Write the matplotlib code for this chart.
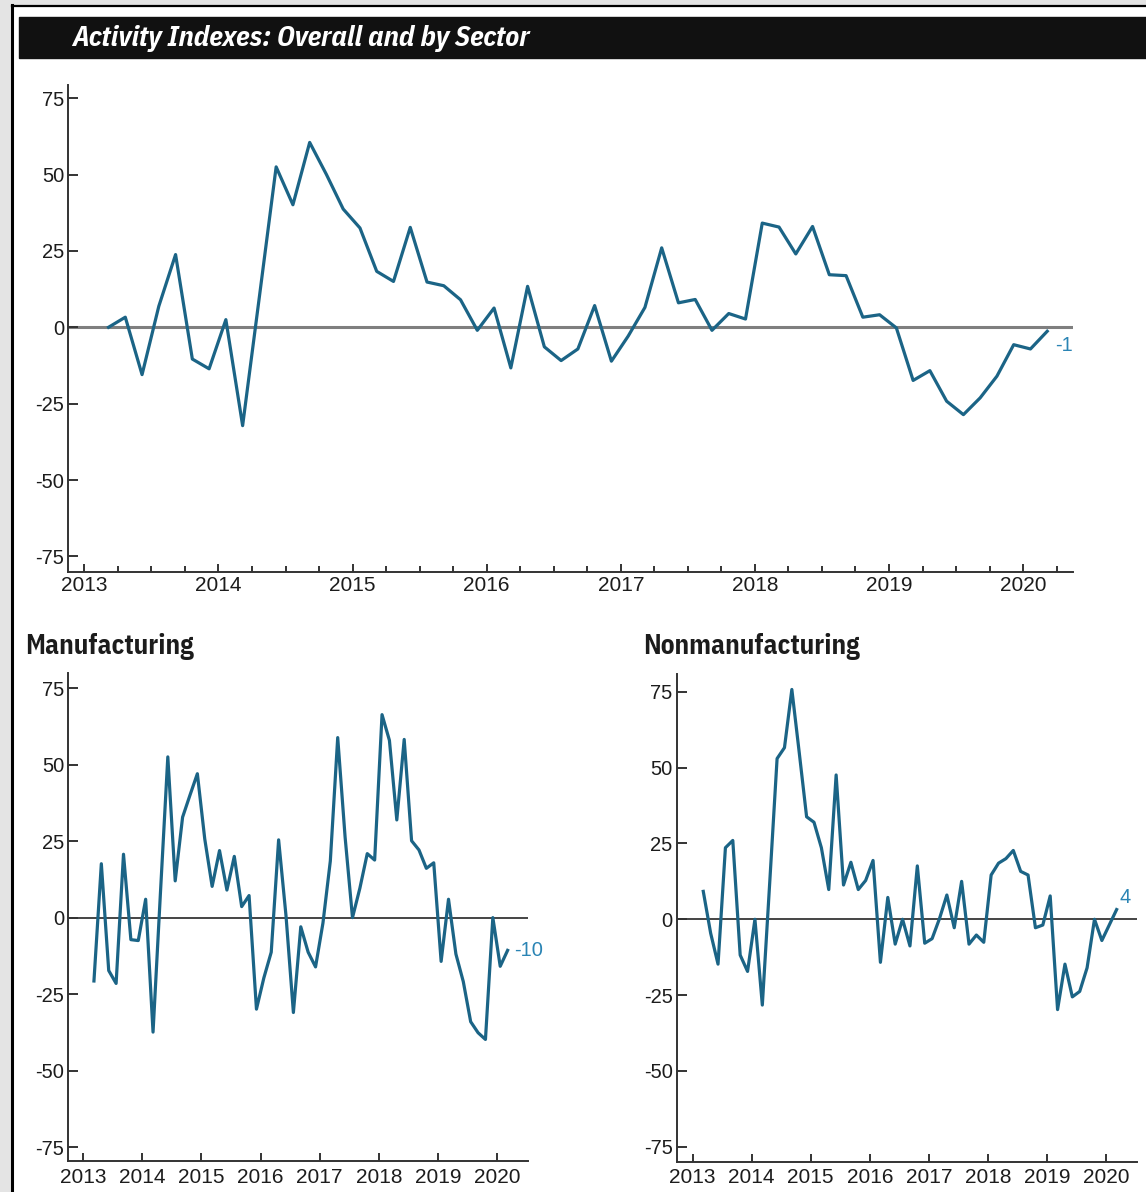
import matplotlib
matplotlib.use("Agg")
import matplotlib.pyplot as plt
import numpy as np
from matplotlib import font_manager
from matplotlib.patches import Rectangle
from matplotlib.lines import Line2D

# Beige Book style releases: 8 per year, first one ~March 2013
first_release = 2013.18
releases_per_year = 8

overall = [0, 3.3, -15.5, 6.9, 23.8, -10.4, -13.6, 2.5, -32.2, 10,
           52.5, 40.1, 60.5, 50, 38.7, 32.5, 18.3, 15.0, 32.7, 14.8,
           13.6, 9.0, -1.0, 6.3, -13.3, 13.4, -6.4, -10.9, -7.1, 7.1,
           -11.1, -2.9, 6.5, 26, 8.0, 9.1, -1.0, 4.5, 2.7, 34.1,
           32.8, 24.0, 33.0, 17.2, 16.9, 3.3, 4.1, -0.2, -17.4, -14.2,
           -24.2, -28.6, -23.1, -16, -5.7, -7.1, -1.3]

manufacturing = [-20.7, 17.6, -17.3, -21.5, 20.7, -7.2, -7.5, 6.0, -37.4, 8,
                 52.5, 12, 32.8, 40, 47, 25.7, 10.2, 21.9, 9.0, 20,
                 3.6, 7.2, -29.9, -19.7, -11.3, 25.4, 0.6, -31, -3, -11.3,
                 -16.1, -1.8, 18.5, 58.8, 26.3, 0, 9.6, 20.9, 18.8, 66.3,
                 57.9, 31.9, 58.2, 25.1, 22.1, 16.1, 17.9, -14.3, 6.0, -11.9,
                 -20.9, -34, -37.6, -39.8, 0, -15.9, -10.7]

nonmanufacturing = [9.2, -4.6, -14.8, 23.6, 26, -11.8, -17.2, 0, -28.3, 12,
                    53, 56.6, 75.8, 55, 33.8, 32, 23.6, 9.8, 47.6, 11.3,
                    18.8, 9.8, 12.8, 19.4, -14.2, 7.2, -8.2, 0, -8.8, 17.6,
                    -7.9, -6.4, 0.2, 8, -2.8, 12.5, -8.2, -5.2, -7.6, 14.6,
                    18.5, 20, 22.7, 15.8, 14.6, -2.8, -1.9, 7.7, -29.8, -14.8,
                    -25.6, -23.8, -16, 0, -7, -1.9, 3.2]

end_labels = ["-1", "-10", "4"]
years = list(range(2013, 2021))
y_ticks = [75, 50, 25, 0, -25, -50, -75]

dates = first_release + np.arange(len(overall)) / releases_per_year

names = {f.name for f in font_manager.fontManager.ttflist}
narrow = "DejaVu Sans"
for cand in ["IBM Plex Sans Condensed", "Roboto Condensed", "PT Sans Narrow", "Archivo Narrow"]:
    if cand in names:
        narrow = cand
        break
plain = "Liberation Sans" if "Liberation Sans" in names else "DejaVu Sans"
plt.rcParams["font.family"] = [plain, "DejaVu Sans"]

line_col = "#1b6486"
label_col = "#2a84b4"
text_col = "#1c1c1c"

W, H = 1146, 1192
fig = plt.figure(figsize=(W / 100, H / 100), dpi=100)
fig.patch.set_facecolor("white")


def px_box(left, top, right, bottom):
    return [left / W, 1 - bottom / H, (right - left) / W, (bottom - top) / H]


# page frame and header bar
fig.add_artist(Rectangle((0, 0), 10 / W, 1, transform=fig.transFigure,
                         color="#e4e4e4", zorder=0))
fig.add_artist(Rectangle((0, 1 - 5 / H), 1, 5 / H, transform=fig.transFigure,
                         color="#e4e4e4", zorder=0))
fig.add_artist(Line2D([11.5 / W, 11.5 / W], [0, 1 - 5 / H], transform=fig.transFigure,
                      color="black", lw=2.2))
fig.add_artist(Line2D([11.5 / W, 1], [1 - 5.5 / H, 1 - 5.5 / H], transform=fig.transFigure,
                      color="black", lw=1.6))
fig.add_artist(Rectangle((19 / W, 1 - 58 / H), 1, 41 / H, transform=fig.transFigure,
                         color="#111111", zorder=1))
fig.text(72 / W, 1 - 38 / H, "Activity Indexes: Overall and by Sector", color="white",
         fontsize=20.5, fontweight="bold", fontstyle="italic", family=[narrow, "DejaVu Sans"],
         va="center", ha="left", zorder=2)


def style_axes(ax, xlim, ylim, minor, zero_col, zero_lw):
    ax.set_xlim(*xlim)
    ax.set_ylim(*ylim)
    for s in ["top", "right"]:
        ax.spines[s].set_visible(False)
    for s in ["left", "bottom"]:
        ax.spines[s].set_color("#333333")
        ax.spines[s].set_linewidth(1.4)
    ax.axhline(0, color=zero_col, lw=zero_lw, zorder=1)
    ax.set_yticks(y_ticks)
    ax.set_yticklabels([str(v) for v in y_ticks])
    ax.set_xticks(years)
    ax.set_xticklabels([str(y) for y in years])
    if minor:
        ax.set_xticks(np.arange(2013, 2020.5, 0.25), minor=True)
    ax.tick_params(axis="y", direction="in", length=7.5, width=1.4, color="#333333",
                   labelsize=14.5, labelcolor=text_col, pad=3)
    ax.tick_params(axis="x", which="major", direction="in", length=6, width=1.4,
                   color="#333333", labelsize=15, labelcolor=text_col, pad=3)
    ax.tick_params(axis="x", which="minor", direction="in", length=4, width=1.4,
                   color="#333333")


# overall
ax0 = fig.add_axes(px_box(68.3, 85, 1072.7, 572.3))
style_axes(ax0, (2012.88, 2020.37), (-80.2, 79.3), True, "#7f7f7f", 2.2)
ax0.plot(dates, overall, color=line_col, lw=2.3, zorder=3)
ax0.annotate(end_labels[0], (dates[-1], overall[-1]), xytext=(6, -10),
             textcoords="offset points", color=label_col, fontsize=14.5, va="center")

# manufacturing
ax1 = fig.add_axes(px_box(68.3, 673, 527.7, 1161.3))
style_axes(ax1, (2012.746, 2020.52), (-79.6, 79.9), False, "#444444", 1.4)
ax1.tick_params(axis="x", pad=4.5)
ax1.plot(dates, manufacturing, color=line_col, lw=2.3, zorder=3)
ax1.annotate(end_labels[1], (dates[-1], manufacturing[-1]), xytext=(5, 0),
             textcoords="offset points", color=label_col, fontsize=14.5, va="center")
fig.text(25 / W, 1 - 647 / H, "Manufacturing", color=text_col, fontsize=19.5,
         fontweight="bold", family=[narrow, "DejaVu Sans"], va="center", ha="left")

# nonmanufacturing
ax2 = fig.add_axes(px_box(676.7, 674, 1136.7, 1161.5))
style_axes(ax2, (2012.73, 2020.52), (-79.9, 80.9), False, "#444444", 1.4)
ax2.tick_params(axis="x", pad=4.5)
ax2.plot(dates, nonmanufacturing, color=line_col, lw=2.3, zorder=3)
ax2.annotate(end_labels[2], (dates[-1], nonmanufacturing[-1]), xytext=(2, 9),
             textcoords="offset points", color=label_col, fontsize=14.5, va="center")
fig.text(643 / W, 1 - 647 / H, "Nonmanufacturing", color=text_col, fontsize=19.5,
         fontweight="bold", family=[narrow, "DejaVu Sans"], va="center", ha="left")

fig.savefig("out.png", dpi=100)
